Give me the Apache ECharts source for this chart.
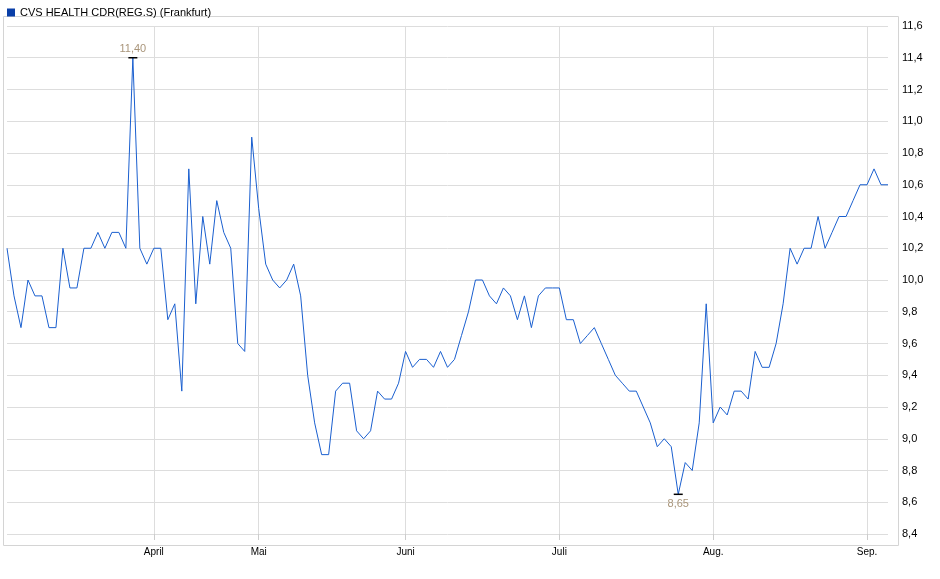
<!DOCTYPE html>
<html><head><meta charset="utf-8">
<script src="https://cdn.jsdelivr.net/npm/echarts@6/dist/echarts.min.js"></script>
<style>html,body{margin:0;background:#fff}#c{width:940px;height:579px}</style></head>
<body><div id="c"></div><script>
const prices=[10.2,9.9,9.7,10.0,9.9,9.9,9.7,9.7,10.2,9.95,9.95,10.2,10.2,10.3,10.2,10.3,10.3,10.2,11.4,10.2,10.1,10.2,10.2,9.75,9.85,9.3,10.7,9.85,10.4,10.1,10.5,10.3,10.2,9.6,9.55,10.9,10.45,10.1,10.0,9.95,10.0,10.1,9.9,9.4,9.1,8.9,8.9,9.3,9.35,9.35,9.05,9.0,9.05,9.3,9.25,9.25,9.35,9.55,9.45,9.5,9.5,9.45,9.55,9.45,9.5,9.65,9.8,10.0,10.0,9.9,9.85,9.95,9.9,9.75,9.9,9.7,9.9,9.95,9.95,9.95,9.75,9.75,9.6,9.65,9.7,9.6,9.5,9.4,9.35,9.3,9.3,9.2,9.1,8.95,9.0,8.95,8.65,8.85,8.8,9.1,9.85,9.1,9.2,9.15,9.3,9.3,9.25,9.55,9.45,9.45,9.6,9.85,10.2,10.1,10.2,10.2,10.4,10.2,10.3,10.4,10.4,10.5,10.6,10.6,10.7,10.6,10.6];
const monthIdx=[21,36,57,79,101,123];
const monthNames=['April','Mai','Juni','Juli','Aug.','Sep.'];
const cats=prices.map((v,i)=>{const k=monthIdx.indexOf(i);return k>=0?monthNames[k]:'';});
const isMonth=(i)=>monthIdx.indexOf(i)>=0;
const ch=echarts.init(document.getElementById('c'));
let maxI=prices.indexOf(Math.max(...prices)),minI=prices.indexOf(Math.min(...prices));
ch.setOption({
 animation:false,
 graphic:[{type:'rect',shape:{x:3.5,y:16.5,width:895,height:529},style:{fill:'none',stroke:'#d4d4d4',lineWidth:1},silent:true}],
 legend:{left:2,top:2,itemWidth:8,itemHeight:8,icon:'rect',textStyle:{fontFamily:'Arial',fontSize:11,color:'#000'},itemGap:4,data:['CVS HEALTH CDR(REG.S) (Frankfurt)']},
 grid:{left:7,right:52,top:26,bottom:45},
 xAxis:{type:'category',data:cats,boundaryGap:false,
  axisLine:{show:false},
  axisTick:{interval:(i)=>isMonth(i),lineStyle:{color:'#ccc'},length:6},
  axisLabel:{interval:(i)=>isMonth(i),color:'#000',fontFamily:'Arial',fontSize:10,margin:13},
  splitLine:{show:true,interval:(i)=>isMonth(i),lineStyle:{color:'#ddd'}}},
 yAxis:{type:'value',position:'right',min:8.4,max:11.6,interval:0.2,
  axisLine:{show:false},axisTick:{show:false},
  axisLabel:{color:'#000',fontFamily:'Arial',fontSize:11,margin:14,formatter:v=>v.toFixed(1).replace('.',',')},
  splitLine:{lineStyle:{color:'#ddd'}}},
 series:[{name:'CVS HEALTH CDR(REG.S) (Frankfurt)',type:'line',data:prices,symbol:'none',color:'#0a3fa8',
  lineStyle:{color:'#1a5fcf',width:1},
  markPoint:{symbol:'rect',symbolSize:[9,1.5],itemStyle:{color:'#000'},
   data:[{coord:[maxI,prices[maxI]],value:prices[maxI],label:{position:'top',distance:3}},
         {coord:[minI,prices[minI]],value:prices[minI],label:{position:'bottom',distance:3}}],
   label:{color:'#a9957a',fontFamily:'Arial',fontSize:11,formatter:p=>p.value.toFixed(2).replace('.',',')}}}]
});
</script></body></html>
